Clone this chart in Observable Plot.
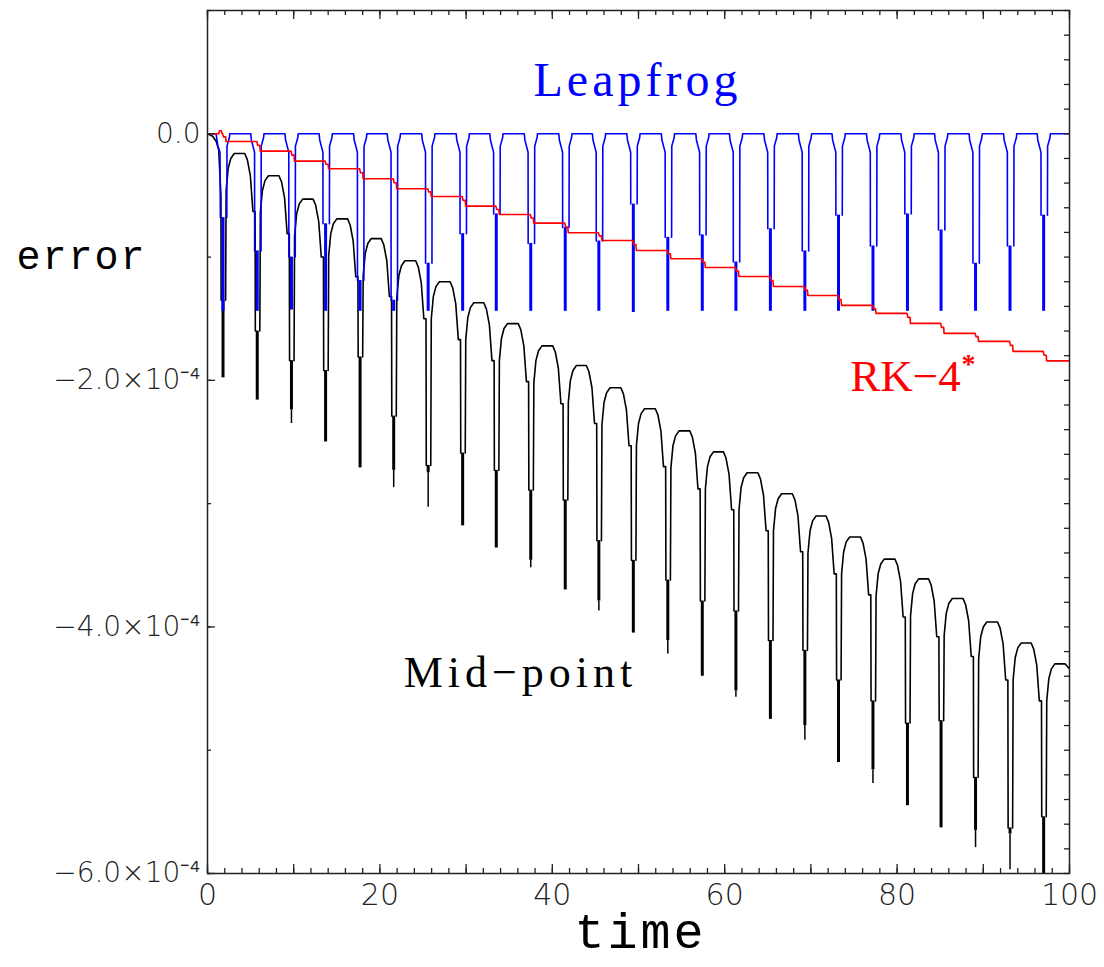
<!DOCTYPE html>
<html><head><meta charset="utf-8">
<script src="https://cdn.jsdelivr.net/npm/d3@7"></script>
<script src="https://cdn.jsdelivr.net/npm/@observablehq/plot@0.6"></script>
<style>body{margin:0;background:#fff;overflow:hidden}</style>
</head><body><div id="chart"></div>
<script>
// ---- data (error values in units of 1e-4, time in time units) ----
// times of the periodic dips (pericentre passages)
const dipTimes = [1.8, 5.77, 9.74, 13.7, 17.7, 21.6, 25.6, 29.6, 33.5, 37.5, 41.5, 45.4, 49.4, 53.4, 57.4, 61.3, 65.3, 69.3, 73.2, 77.2, 81.2, 85.1, 89.1, 93.1, 97.0];

// Mid-point: top of the arc following each dip, dense band top/bottom, deepest point of each dip
const midArcTop = [-0.16,-0.34,-0.53,-0.69,-0.85,-1.03,-1.20,-1.37,-1.54,-1.72,-1.88,-2.06,-2.23,-2.41,-2.58,-2.75,-2.92,-3.10,-3.27,-3.45,-3.61,-3.77,-3.96,-4.13,-4.30];
const midBandTop = [-1.35,-1.60,-1.84,-1.92,-1.81,-2.29,-2.69,-2.59,-2.73,-2.89,-2.97,-3.30,-3.46,-3.62,-3.79,-3.87,-4.11,-4.19,-4.43,-4.60,-4.78,-4.76,-5.22,-5.63,-5.54];
const midBandBottom = [-1.98,-2.16,-2.24,-2.50,-2.71,-2.73,-2.75,-3.18,-3.36,-3.46,-3.70,-3.79,-4.05,-4.11,-4.40,-4.52,-4.75,-4.80,-5.10,-5.16,-5.45,-5.63,-5.65,-5.68,-6.06];
const midMin = [-1.98,-2.16,-2.35,-2.50,-2.71,-2.87,-3.03,-3.18,-3.36,-3.52,-3.70,-3.87,-4.05,-4.22,-4.40,-4.57,-4.75,-4.92,-5.10,-5.27,-5.45,-5.63,-5.79,-5.97,-6.06];
const midStart = [[0,0],[0.6,-0.02],[1.0,-0.06],[1.3,-0.13],[1.56,-0.5],[1.58,-1.35]];
const midTail = [[99.5,-4.30],[100,-4.34]];
// shape of one Mid-point arc: [time offset, value offset from arc top]
const midRise = [[0.36,-0.30],[0.6,-0.12],[0.9,-0.04],[1.3,0]];
const midFall = [[-1.45,0],[-1.15,-0.05],[-0.8,-0.18],[-0.5,-0.47],[-0.25,-0.47]];

// Leapfrog: dense band top and minimum of each dip
const lfBandTop = [-0.68,-0.95,-1.00,-0.73,-1.19,-1.35,-1.05,-0.81,-0.65,-0.89,-0.76,-0.87,-0.57,-0.84,-0.82,-1.04,-0.77,-0.95,-0.66,-0.91,-0.65,-0.78,-1.05,-0.91,-0.66];
const lfMin = [-1.44,-1.44,-1.43,-1.44,-1.44,-1.44,-1.44,-1.44,-1.44,-1.44,-1.44,-1.44,-1.45,-1.44,-1.44,-1.44,-1.44,-1.44,-1.44,-1.44,-1.44,-1.44,-1.44,-1.44,-1.44];
const lfStart = [[0,0],[1.0,0],[1.2,-0.1],[1.45,-0.15]];
// shape of one Leapfrog cycle: [time offset, value]
const lfRise = [[0.46,-0.1],[0.74,-0.03],[0.78,0]];
const lfFall = [[-0.75,0],[-0.68,-0.05],[-0.42,-0.12],[-0.31,-0.15]];

// RK-4*: level of each stair step after each dip
const rkLevel = [-0.062,-0.141,-0.222,-0.284,-0.365,-0.446,-0.509,-0.587,-0.655,-0.725,-0.803,-0.865,-0.947,-1.014,-1.084,-1.158,-1.239,-1.312,-1.392,-1.457,-1.538,-1.619,-1.684,-1.765,-1.842];
const rkStart = [[0,0],[1.3,0],[1.4,0.025],[1.6,0.025],[1.7,0]];

// axis ticks / labels
const xLabels = [0,20,40,60,80,100];
const yLabels = [0,-2,-4,-6];
const xMinor = d3.range(0,101,2);
const xMajor = d3.range(0,101,10);
const yLeftMinor = d3.range(-6,1.01,1);
const yLeftMajor = [0,-2,-4,-6];
const yRightMinor = d3.range(-6,1.001,0.2);

// ---- build line tables (one segment per arc, dense dips drawn as bands) ----
const n = dipTimes.length;
const mid = midStart.map(([t,v]) => ({t, v, s: -1}));
dipTimes.forEach((t,k) => {
  const a = midArcTop[k];
  mid.push({t: t+0.3, v: midBandTop[k], s: k});
  midRise.forEach(([dt,dv]) => mid.push({t: t+dt, v: a+dv, s: k}));
  if (k < n-1) {
    const tn = dipTimes[k+1];
    midFall.forEach(([dt,dv]) => mid.push({t: tn+dt, v: a+dv, s: k}));
    mid.push({t: tn-0.22, v: midBandTop[k+1], s: k});
  } else midTail.forEach(([tt,v]) => mid.push({t: tt, v, s: k}));
});
const midBands = dipTimes.map((t,k) => ({t, top: midBandTop[k], bottom: midBandBottom[k], min: midMin[k]}));

const lf = lfStart.map(([t,v]) => ({t, v, s: -1}));
lf.push({t: dipTimes[0]-0.31, v: lfBandTop[0], s: -1});
dipTimes.forEach((t,k) => {
  lf.push({t: t+0.44, v: lfBandTop[k], s: k});
  lfRise.forEach(([dt,v]) => lf.push({t: t+dt, v, s: k}));
  if (k < n-1) {
    const tn = dipTimes[k+1];
    lfFall.forEach(([dt,v]) => lf.push({t: tn+dt, v, s: k}));
    lf.push({t: tn-0.3, v: lfBandTop[k+1], s: k});
  } else lf.push({t: 100, v: 0, s: k});
});
const lfBands = dipTimes.map((t,k) => ({t, top: lfBandTop[k], bottom: lfMin[k]}));

const rk = rkStart.map(([t,v]) => ({t, v}));
let prev = 0;
dipTimes.forEach((t,k) => {
  const L = rkLevel[k], m = prev + 0.4*(L-prev);
  rk.push({t: t-0.05, v: prev}, {t: t+0.05, v: m}, {t: t+0.3, v: m}, {t: t+0.35, v: L});
  prev = L;
});
rk.push({t: 100, v: prev});

const W = 1104, H = 967, mL = 207, mR = 35, mT = 10, mB = 94;
const iw = W - mL - mR, ih = H - mT - mB;
const fmtY = d => d === 0 ? "0.0" : "\u2212" + Math.abs(d).toFixed(1) + "\u00d710\u207b\u2074";

const chart = Plot.plot({
  width: W, height: H,
  marginLeft: mL, marginRight: mR, marginTop: mT, marginBottom: mB,
  style: {fontFamily: "DejaVu Sans", background: "white"},
  x: {domain: [0,100], label: null},
  y: {domain: [-6,1], label: null},
  marks: [
    Plot.line(mid, {x: "t", y: "v", z: "s", stroke: "black", strokeWidth: 1.6, clip: true}),
    Plot.ruleX(midBands, {x: "t", y1: "bottom", y2: "min", stroke: "black", strokeWidth: 1.5, clip: true}),
    Plot.ruleX(midBands, {x: "t", y1: "top", y2: "bottom", stroke: "black", strokeWidth: 3, clip: true}),
    Plot.line(lf, {x: "t", y: "v", z: "s", stroke: "#0000ff", strokeWidth: 1.6, clip: true}),
    Plot.ruleX(lfBands, {x: "t", y1: "top", y2: "bottom", stroke: "#0000ff", strokeWidth: 3, clip: true}),
    Plot.line(rk, {x: "t", y: "v", stroke: "#ff0000", strokeWidth: 1.6, clip: true}),
    Plot.frame({stroke: "#222", strokeWidth: 1.5}),
    // inward ticks
    Plot.ruleX(xMinor, {x: d => d, insetTop: ih-5, stroke: "#222", strokeWidth: 1.3}),
    Plot.ruleX(xMajor, {x: d => d, insetTop: ih-9, stroke: "#222", strokeWidth: 1.3}),
    Plot.ruleX(xMinor, {x: d => d, insetBottom: ih-5, stroke: "#222", strokeWidth: 1.3}),
    Plot.ruleX(xMajor, {x: d => d, insetBottom: ih-9, stroke: "#222", strokeWidth: 1.3}),
    Plot.ruleY(yLeftMinor, {y: d => d, insetRight: iw-4, stroke: "#222", strokeWidth: 1.3}),
    Plot.ruleY(yLeftMajor, {y: d => d, insetRight: iw-8, stroke: "#222", strokeWidth: 1.3}),
    Plot.ruleY(yRightMinor, {y: d => d, insetLeft: iw-5, stroke: "#222", strokeWidth: 1.3}),
    Plot.axisX(xLabels, {tickSize: 0, tickPadding: 10, fontSize: 30, fontWeight: 200, fill: "#222", label: null}),
    Plot.axisY(yLabels, {tickSize: 0, tickPadding: 7, fontSize: 28, fontWeight: 200, fill: "#222", tickFormat: fmtY, label: null}),
    // titles
    Plot.text(["error"], {frameAnchor: "top-left", dx: 81-mL, dy: 256-mT, textAnchor: "middle", lineAnchor: "middle", fontFamily: "Liberation Mono", fontSize: 40, fill: "black"}),
    Plot.text(["time"], {frameAnchor: "bottom", dx: 640-(mL+iw/2), dy: 58, textAnchor: "middle", lineAnchor: "middle", fontFamily: "Liberation Mono", fontSize: 50, fill: "black"}),
    Plot.text(["Leapfrog"], {frameAnchor: "top-left", dx: 637-mL, dy: 80-mT, textAnchor: "middle", lineAnchor: "middle", fontFamily: "Liberation Serif", fontSize: 48, fill: "#0000ff"}),
    Plot.text(["RK\u22124"], {frameAnchor: "top-left", dx: 905-mL, dy: 376-mT, textAnchor: "middle", lineAnchor: "middle", fontFamily: "Liberation Serif", fontSize: 45, fill: "#ff0000"}),
    Plot.text(["*"], {frameAnchor: "top-left", dx: 968-mL, dy: 364-mT, textAnchor: "middle", lineAnchor: "middle", fontFamily: "Liberation Serif", fontSize: 28, fontWeight: "bold", fill: "#ff0000"}),
    Plot.text(["Mid\u2212point"], {frameAnchor: "top-left", dx: 520-mL, dy: 672-mT, textAnchor: "middle", lineAnchor: "middle", fontFamily: "Liberation Serif", fontSize: 44, fill: "black"})
  ]
});
// widen the letter spacing of the series labels like the reference's lettering
const spacing = {"Leapfrog": "4px", "Mid\u2212point": "5px", "time": "3px", "error": "2px"};
chart.querySelectorAll("text").forEach(el => {
  const s = spacing[el.textContent];
  if (s) el.style.letterSpacing = s;
});
document.getElementById("chart").appendChild(chart);
</script>
</body></html>
